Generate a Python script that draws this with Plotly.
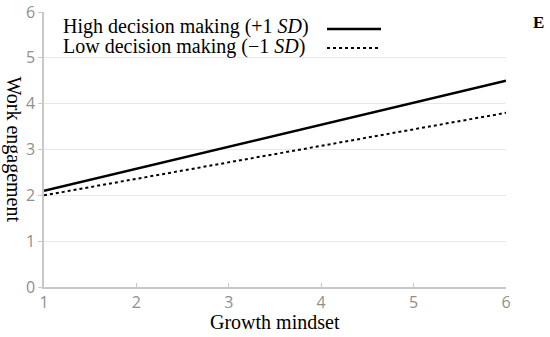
import plotly.graph_objects as go

growth_mindset = [1, 6]
high_decision = [2.1, 4.5]
low_decision = [2.0, 3.8]
x_ticks = [1, 2, 3, 4, 5, 6]
y_ticks = [0, 1, 2, 3, 4, 5, 6]
series_labels = ["High decision making (+1 <i>SD</i>)", "Low decision making (\u22121 <i>SD</i>)"]

SERIF = "Liberation Serif"
SANS = "Open Sans"

W, H = 550, 337
L, T = 44, 12
PW, PH = 462, 275
R = W - L - PW
B = H - T - PH


def px_x(x):
    return (x - L) / PW


def px_y(y):
    return 1 - (y - T) / PH


fig = go.Figure()
fig.add_trace(go.Scatter(x=growth_mindset, y=high_decision, mode="lines",
                         line=dict(color="black", width=2.6), showlegend=False))
fig.add_trace(go.Scatter(x=growth_mindset, y=low_decision, mode="lines",
                         line=dict(color="black", width=2, dash="dot"), showlegend=False))

# manual legend (text left, sample line right)
legend_rows = [(series_labels[0], "solid", 2.4), (series_labels[1], "dot", 2.0)]
for i, (label, dash, w) in enumerate(legend_rows):
    fig.add_annotation(xref="paper", yref="paper", x=px_x(61), y=px_y(26 + i * 21),
                       xanchor="left", yanchor="middle", showarrow=False,
                       text=label, font=dict(family=SERIF, size=20, color="black"))
    ly = px_y(29 + i * 19)
    fig.add_shape(type="line", xref="paper", yref="paper",
                  x0=px_x(327), x1=px_x(381), y0=ly, y1=ly,
                  line=dict(color="black", width=w, dash=dash))

fig.add_annotation(xref="paper", yref="paper", x=px_x(538), y=px_y(22),
                   xanchor="center", yanchor="middle", showarrow=False,
                   text="<b>E</b>", font=dict(family=SERIF, size=17, color="black"))

fig.add_annotation(xref="paper", yref="paper", x=px_x(13), y=0.5,
                   xanchor="center", yanchor="middle", showarrow=False, textangle=90,
                   text="Work engagement", font=dict(family=SERIF, size=20, color="black"))

fig.add_annotation(xref="paper", yref="paper", x=0.5, y=px_y(322),
                   xanchor="center", yanchor="middle", showarrow=False,
                   text="Growth mindset", font=dict(family=SERIF, size=20, color="black"))

fig.update_layout(
    width=W, height=H,
    margin=dict(l=L, r=R, t=T, b=B, autoexpand=False),
    paper_bgcolor="white", plot_bgcolor="white",
    showlegend=False,
)
fig.update_xaxes(range=[1, 6], tickvals=x_ticks, showgrid=False, zeroline=False,
                 automargin=False,
                 showline=True, linecolor="#c8c8c8", linewidth=1.5,
                 ticks="inside", ticklen=4, tickcolor="#c8c8c8",
                 tickfont=dict(family=SANS, size=16, color="#8f8f8f"))
fig.update_yaxes(range=[0, 6], tickvals=y_ticks, showgrid=True, gridcolor="#e8e8e8", gridwidth=1,
                 automargin=False,
                 zeroline=False, showline=True, linecolor="#c8c8c8", linewidth=1.5,
                 ticks="outside", ticklen=4, tickcolor="#c8c8c8",
                 tickfont=dict(family=SANS, size=16, color="#8f8f8f"))

fig.write_html("out.html", config={"displayModeBar": False},
               post_script="document.body.style.margin='0';")
